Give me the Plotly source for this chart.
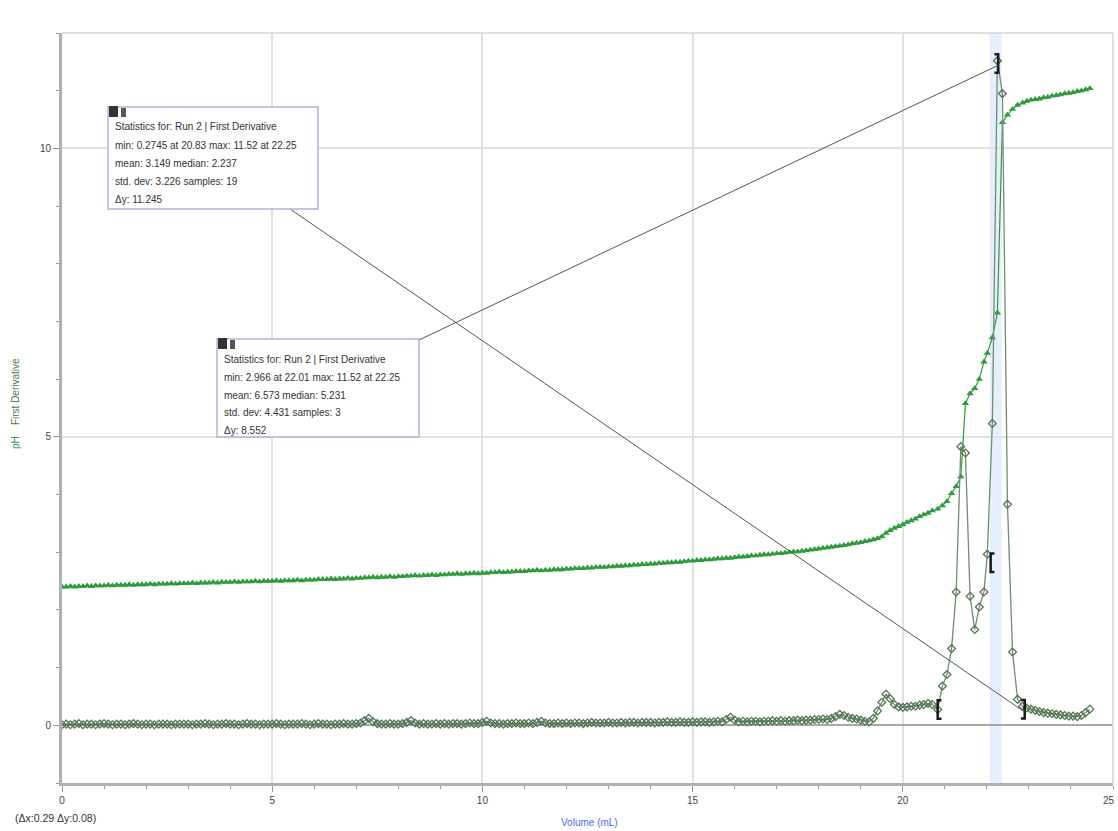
import plotly.graph_objects as go

# ---- titration data: Run 2 ----
volume_ml = [
    0.0, 0.1, 0.2, 0.3, 0.4, 0.5, 0.6, 0.7, 0.8, 0.9,
    1.0, 1.1, 1.2, 1.3, 1.4, 1.5, 1.6, 1.7, 1.8, 1.9,
    2.0, 2.1, 2.2, 2.3, 2.4, 2.5, 2.6, 2.7, 2.8, 2.9,
    3.0, 3.1, 3.2, 3.3, 3.4, 3.5, 3.6, 3.7, 3.8, 3.9,
    4.0, 4.1, 4.2, 4.3, 4.4, 4.5, 4.6, 4.7, 4.8, 4.9,
    5.0, 5.1, 5.2, 5.3, 5.4, 5.5, 5.6, 5.7, 5.8, 5.9,
    6.0, 6.1, 6.2, 6.3, 6.4, 6.5, 6.6, 6.7, 6.8, 6.9,
    7.0, 7.1, 7.2, 7.3, 7.4, 7.5, 7.6, 7.7, 7.8, 7.9,
    8.0, 8.1, 8.2, 8.3, 8.4, 8.5, 8.6, 8.7, 8.8, 8.9,
    9.0, 9.1, 9.2, 9.3, 9.4, 9.5, 9.6, 9.7, 9.8, 9.9,
    10.0, 10.1, 10.2, 10.3, 10.4, 10.5, 10.6, 10.7, 10.8, 10.9,
    11.0, 11.1, 11.2, 11.3, 11.4, 11.5, 11.6, 11.7, 11.8, 11.9,
    12.0, 12.1, 12.2, 12.3, 12.4, 12.5, 12.6, 12.7, 12.8, 12.9,
    13.0, 13.1, 13.2, 13.3, 13.4, 13.5, 13.6, 13.7, 13.8, 13.9,
    14.0, 14.1, 14.2, 14.3, 14.4, 14.5, 14.6, 14.7, 14.8, 14.9,
    15.0, 15.1, 15.2, 15.3, 15.4, 15.5, 15.6, 15.7, 15.8, 15.9,
    16.0, 16.1, 16.2, 16.3, 16.4, 16.5, 16.6, 16.7, 16.8, 16.9,
    17.0, 17.1, 17.2, 17.3, 17.4, 17.5, 17.6, 17.7, 17.8, 17.9,
    18.0, 18.1, 18.2, 18.3, 18.4, 18.5, 18.6, 18.7, 18.8, 18.9,
    19.0, 19.1, 19.2, 19.3, 19.4, 19.5, 19.6, 19.7, 19.8, 19.9,
    20.0, 20.1, 20.2, 20.3, 20.4, 20.5, 20.6, 20.7,
    20.83, 20.94, 21.05, 21.16, 21.27, 21.38, 21.49, 21.60, 21.71, 21.82,
    21.93, 22.01, 22.13, 22.25, 22.37, 22.49, 22.61, 22.73, 22.85,
    22.95, 23.05, 23.15, 23.25, 23.35, 23.45, 23.55, 23.65, 23.75, 23.85,
    23.95, 24.05, 24.15, 24.25, 24.35, 24.45,
]

ph = [
    2.40, 2.40, 2.41, 2.40, 2.41, 2.41, 2.42, 2.41, 2.42, 2.42,
    2.42, 2.43, 2.42, 2.43, 2.43, 2.43, 2.44, 2.43, 2.44, 2.44,
    2.44, 2.45, 2.44, 2.45, 2.45, 2.45, 2.46, 2.45, 2.46, 2.46,
    2.46, 2.47, 2.46, 2.47, 2.47, 2.47, 2.48, 2.47, 2.48, 2.48,
    2.48, 2.49, 2.48, 2.49, 2.49, 2.49, 2.50, 2.49, 2.50, 2.50,
    2.50, 2.51, 2.50, 2.51, 2.51, 2.51, 2.52, 2.51, 2.52, 2.52,
    2.52, 2.53, 2.53, 2.53, 2.54, 2.53, 2.54, 2.54, 2.55, 2.54,
    2.55, 2.55, 2.56, 2.56, 2.57, 2.56, 2.57, 2.57, 2.58, 2.57,
    2.58, 2.58, 2.59, 2.59, 2.60, 2.59, 2.60, 2.60, 2.61, 2.60,
    2.61, 2.61, 2.62, 2.62, 2.63, 2.62, 2.63, 2.63, 2.64, 2.63,
    2.64, 2.64, 2.65, 2.65, 2.66, 2.65, 2.66, 2.66, 2.67, 2.67,
    2.67, 2.68, 2.68, 2.69, 2.68, 2.69, 2.69, 2.70, 2.70, 2.70,
    2.71, 2.71, 2.72, 2.72, 2.72, 2.73, 2.73, 2.74, 2.74, 2.74,
    2.75, 2.75, 2.76, 2.76, 2.77, 2.77, 2.78, 2.78, 2.79, 2.79,
    2.80, 2.80, 2.81, 2.81, 2.82, 2.82, 2.83, 2.83, 2.84, 2.85,
    2.85, 2.86, 2.86, 2.87, 2.87, 2.88, 2.89, 2.89, 2.90, 2.90,
    2.91, 2.92, 2.92, 2.93, 2.94, 2.94, 2.95, 2.96, 2.96, 2.97,
    2.98, 2.98, 2.99, 3.00, 3.01, 3.01, 3.02, 3.03, 3.04, 3.05,
    3.06, 3.07, 3.08, 3.09, 3.10, 3.11, 3.12, 3.13, 3.15, 3.16,
    3.17, 3.19, 3.20, 3.22, 3.24, 3.27, 3.33, 3.38, 3.42, 3.45,
    3.48, 3.52, 3.55, 3.58, 3.62, 3.65, 3.68, 3.72,
    3.75, 3.81, 3.88, 4.02, 4.14, 4.31, 5.58, 5.75, 5.84, 6.00,
    6.30, 6.45, 6.72, 7.15, 10.45, 10.58, 10.68, 10.75, 10.79,
    10.82, 10.84, 10.85, 10.86, 10.88, 10.89, 10.91, 10.92, 10.93, 10.95,
    10.96, 10.97, 10.99, 11.00, 11.02, 11.04,
]

first_derivative = [
    0.01, 0.02, 0.01, 0.02, 0.03, 0.01, 0.02, 0.02, 0.01, 0.02,
    0.03, 0.02, 0.01, 0.02, 0.02, 0.01, 0.02, 0.03, 0.02, 0.01,
    0.02, 0.02, 0.01, 0.02, 0.02, 0.02, 0.01, 0.02, 0.02, 0.02,
    0.02, 0.01, 0.02, 0.02, 0.03, 0.02, 0.01, 0.02, 0.02, 0.03,
    0.02, 0.02, 0.01, 0.02, 0.03, 0.02, 0.02, 0.01, 0.02, 0.02,
    0.02, 0.03, 0.02, 0.01, 0.02, 0.02, 0.02, 0.03, 0.02, 0.01,
    0.02, 0.03, 0.02, 0.02, 0.01, 0.02, 0.02, 0.03, 0.02, 0.02,
    0.03, 0.04, 0.08, 0.12, 0.06, 0.03, 0.02, 0.02, 0.03, 0.02,
    0.02, 0.03, 0.05, 0.08, 0.04, 0.02, 0.03, 0.02, 0.02, 0.03,
    0.02, 0.03, 0.02, 0.03, 0.03, 0.02, 0.03, 0.04, 0.03, 0.03,
    0.05, 0.07, 0.04, 0.03, 0.03, 0.02, 0.03, 0.03, 0.04, 0.03,
    0.03, 0.04, 0.03, 0.05, 0.07, 0.04, 0.03, 0.03, 0.04, 0.03,
    0.04, 0.03, 0.04, 0.04, 0.03, 0.04, 0.05, 0.04, 0.04, 0.04,
    0.05, 0.04, 0.04, 0.05, 0.04, 0.05, 0.05, 0.04, 0.05, 0.05,
    0.05, 0.04, 0.05, 0.05, 0.06, 0.05, 0.05, 0.06, 0.05, 0.05,
    0.06, 0.05, 0.06, 0.06, 0.05, 0.06, 0.07, 0.06, 0.10, 0.14,
    0.09, 0.06, 0.07, 0.06, 0.07, 0.07, 0.06, 0.07, 0.07, 0.08,
    0.07, 0.08, 0.07, 0.08, 0.08, 0.09, 0.08, 0.09, 0.09, 0.10,
    0.10, 0.11, 0.10, 0.12, 0.15, 0.19, 0.17, 0.14, 0.12, 0.11,
    0.09, 0.07, 0.06, 0.12, 0.25, 0.40, 0.54, 0.46, 0.36, 0.32,
    0.31, 0.32, 0.33, 0.33, 0.35, 0.36, 0.38, 0.36,
    0.2745, 0.68, 0.88, 1.33, 2.31, 4.83, 4.72, 2.237, 1.66, 2.05,
    2.31, 2.966, 5.231, 11.52, 10.95, 3.83, 1.27, 0.45, 0.33,
    0.30, 0.28, 0.26, 0.24, 0.22, 0.21, 0.20, 0.19, 0.18, 0.17,
    0.16, 0.16, 0.15, 0.17, 0.22, 0.28,
]

x_ticks = [0, 5, 10, 15, 20, 25]
y_ticks = [0, 5, 10]

# statistics regions: (start, end) volumes and their readouts
region_wide = (20.83, 22.85)
region_narrow = (22.01, 22.25)
stats_wide = [
    "Statistics for: Run 2 | First Derivative",
    "min: 0.2745 at 20.83 max: 11.52 at 22.25",
    "mean: 3.149 median: 2.237",
    "std. dev: 3.226 samples: 19",
    "Δy: 11.245",
]
stats_narrow = [
    "Statistics for: Run 2 | First Derivative",
    "min: 2.966 at 22.01 max: 11.52 at 22.25",
    "mean: 6.573 median: 5.231",
    "std. dev: 4.431 samples: 3",
    "Δy: 8.552",
]
selection_band = (22.07, 22.35)

# ---- layout geometry (pixels) ----
W, H = 1118, 831
L, R, T, B = 62, 1113, 33, 783
X_RANGE = (0, 25)
Y_RANGE = (-1, 12)
FONT = "Liberation Sans, Arial, sans-serif"


def paper_x(px):
    return (px - L) / (R - L)


def paper_y(py):
    return (B - py) / (B - T)


def data_x(px):
    return X_RANGE[0] + (px - L) / (R - L) * (X_RANGE[1] - X_RANGE[0])


def data_y(py):
    return Y_RANGE[0] + (B - py) / (B - T) * (Y_RANGE[1] - Y_RANGE[0])


fig = go.Figure()

fig.add_trace(go.Scatter(
    x=volume_ml, y=ph, mode="lines+markers", name="pH",
    line=dict(color="#2f9a3e", width=1.2),
    marker=dict(symbol="triangle-up", size=6.5, color="#2f9a3e"),
    showlegend=False,
))
fig.add_trace(go.Scatter(
    x=volume_ml, y=first_derivative, mode="lines+markers", name="First Derivative",
    line=dict(color="#6f8f6f", width=1.3),
    marker=dict(symbol="diamond-open", size=6, color="#557555",
                line=dict(width=1.3)),
    showlegend=False,
))

shapes = []
# highlighted selection band
shapes.append(dict(type="rect", xref="x", yref="paper",
                   x0=selection_band[0], x1=selection_band[1], y0=0, y1=1,
                   fillcolor="#e6effd", line=dict(width=0), layer="below"))
# top / right frame
shapes.append(dict(type="line", xref="paper", yref="paper", x0=0, x1=1, y0=1, y1=1,
                   line=dict(color="#d6d6d6", width=1.5)))
shapes.append(dict(type="line", xref="paper", yref="paper", x0=1, x1=1, y0=0, y1=1,
                   line=dict(color="#d6d6d6", width=1.5)))


def bracket(x, y, side):
    h = 0.16
    w = 0.09 if side == "left" else -0.09
    path = (f"M {x + w},{y + h} L {x},{y + h} L {x},{y - h} L {x + w},{y - h}")
    return dict(type="path", xref="x", yref="y", path=path,
                line=dict(color="#1a1a1a", width=2.5))


def deriv_at(v):
    return first_derivative[volume_ml.index(v)]


shapes.append(bracket(region_wide[0], deriv_at(region_wide[0]), "left"))
shapes.append(bracket(region_wide[1] + 0.05, deriv_at(region_wide[1]) - 0.05, "right"))
shapes.append(bracket(region_narrow[0] + 0.08, deriv_at(region_narrow[0]) - 0.15, "left"))
shapes.append(bracket(region_narrow[1] + 0.02, deriv_at(region_narrow[1]) - 0.05, "right"))

# connectors from readout boxes to their regions
shapes.append(dict(type="line", xref="x", yref="y",
                   x0=data_x(290), y0=data_y(209),
                   x1=region_wide[1] + 0.05, y1=deriv_at(region_wide[1]) - 0.1,
                   line=dict(color="#555555", width=1)))
shapes.append(dict(type="line", xref="x", yref="y",
                   x0=data_x(419), y0=data_y(340),
                   x1=region_narrow[1] + 0.02, y1=deriv_at(region_narrow[1]) - 0.08,
                   line=dict(color="#555555", width=1)))

annotations = []


def readout_box(x0, y0, x1, y1, lines):
    shapes.append(dict(type="rect", xref="paper", yref="paper",
                       x0=paper_x(x0), x1=paper_x(x1), y0=paper_y(y1), y1=paper_y(y0),
                       fillcolor="white", line=dict(color="#b3b3d6", width=1.5),
                       layer="above"))
    # small statistics icon in the top-left corner
    shapes.append(dict(type="rect", xref="paper", yref="paper",
                       x0=paper_x(x0 + 1), x1=paper_x(x0 + 10),
                       y0=paper_y(y0 + 10), y1=paper_y(y0 - 1),
                       fillcolor="#333333", line=dict(width=0), layer="above"))
    shapes.append(dict(type="rect", xref="paper", yref="paper",
                       x0=paper_x(x0 + 13), x1=paper_x(x0 + 18),
                       y0=paper_y(y0 + 10), y1=paper_y(y0 + 1),
                       fillcolor="#555555", line=dict(width=0), layer="above"))
    for i, text in enumerate(lines):
        annotations.append(dict(
            xref="paper", yref="paper", x=paper_x(x0 + 5), y=paper_y(y0 + 20 + 18 * i),
            text=text, showarrow=False, xanchor="left", yanchor="middle",
            font=dict(family=FONT, size=10, color="#333333"),
        ))


readout_box(108, 107, 318, 209, stats_wide)
readout_box(217, 339, 419, 437, stats_narrow)

annotations.append(dict(
    xref="paper", yref="paper", x=paper_x(16), y=paper_y(403),
    text=('<span style="color:#2f9a3e">pH</span>'
          '<span style="color:#4c7d4c">    First Derivative</span>'),
    textangle=-90, showarrow=False, xanchor="center", yanchor="middle",
    font=dict(family=FONT, size=10),
))
annotations.append(dict(
    xref="paper", yref="paper", x=paper_x(589), y=paper_y(822),
    text="Volume (mL)", showarrow=False, xanchor="center", yanchor="middle",
    font=dict(family=FONT, size=10, color="#4a6cf0"),
))
annotations.append(dict(
    xref="paper", yref="paper", x=paper_x(13), y=paper_y(818),
    text="(Δx:0.29 Δy:0.08)", showarrow=False, xanchor="left", yanchor="middle",
    font=dict(family=FONT, size=10.5, color="#333333"),
))
# last x tick label, kept flush with the right edge of the page
annotations.append(dict(
    xref="paper", yref="paper", x=paper_x(W - 1), y=paper_y(800),
    text=str(x_ticks[-1]), showarrow=False, xanchor="right", yanchor="middle",
    font=dict(family=FONT, size=10, color="#444444"),
))

fig.update_layout(
    width=W, height=H,
    margin=dict(l=L, r=W - R, t=T, b=H - B, pad=0),
    paper_bgcolor="white", plot_bgcolor="white",
    shapes=shapes, annotations=annotations,
    font=dict(family=FONT, size=10, color="#444444"),
    xaxis=dict(
        range=list(X_RANGE), tickvals=x_ticks[:-1],
        ticktext=[str(t) for t in x_ticks[:-1]],
        ticks="outside", ticklen=6, tickcolor="#999999", tickwidth=1,
        minor=dict(dtick=1, ticks="outside", ticklen=3, tickcolor="#999999",
                   showgrid=False),
        showgrid=True, gridcolor="#e2e2e2", gridwidth=2,
        showline=True, linecolor="#b0b0b0", linewidth=3,
        zeroline=False, tickfont=dict(size=10, color="#444444"),
    ),
    yaxis=dict(
        range=list(Y_RANGE), tickvals=y_ticks, ticktext=[str(t) for t in y_ticks],
        ticks="outside", ticklen=6, tickcolor="#999999", tickwidth=1,
        minor=dict(dtick=1, ticks="outside", ticklen=3, tickcolor="#999999",
                   showgrid=False),
        showgrid=True, gridcolor="#e2e2e2", gridwidth=2,
        showline=True, linecolor="#b0b0b0", linewidth=3,
        zeroline=True, zerolinecolor="#a8a8a8", zerolinewidth=2,
        tickfont=dict(size=10, color="#444444"),
    ),
)

fig.write_html("out.html")
